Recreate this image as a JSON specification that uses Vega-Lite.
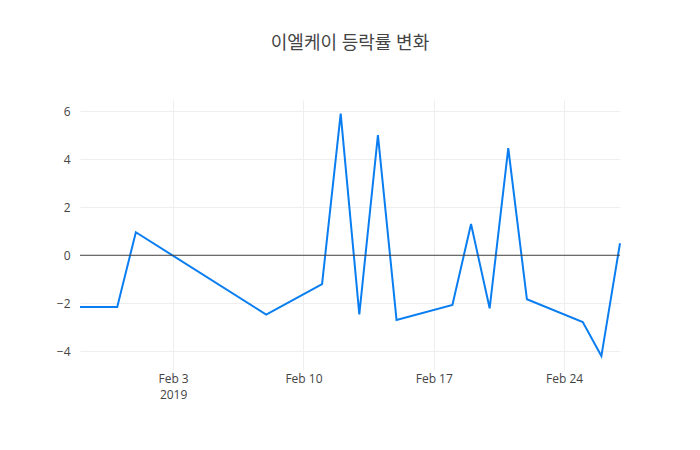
{
  "$schema": "https://vega.github.io/schema/vega-lite/v6.json",
  "description": "이엘케이 daily rate of change, Feb 2019.",
  "autosize": "none",
  "width": 540,
  "height": 270,
  "padding": {"left": 80, "right": 80, "top": 100, "bottom": 80},
  "background": "white",
  "config": {
    "font": "Open Sans, Noto Sans CJK KR",
    "view": {"stroke": null}
  },
  "title": {
    "text": "이엘케이 등락률 변화",
    "font": "Open Sans, Noto Sans CJK KR",
    "fontSize": 18,
    "fontWeight": "normal",
    "color": "#444",
    "anchor": "middle",
    "baseline": "middle",
    "offset": 38
  },
  "data": {
    "values": [
      {"date": "2019-01-29", "rate": -2.15},
      {"date": "2019-01-31", "rate": -2.15},
      {"date": "2019-02-01", "rate": 0.96},
      {"date": "2019-02-08", "rate": -2.47},
      {"date": "2019-02-11", "rate": -1.2},
      {"date": "2019-02-12", "rate": 5.9},
      {"date": "2019-02-13", "rate": -2.46},
      {"date": "2019-02-14", "rate": 5.01},
      {"date": "2019-02-15", "rate": -2.7},
      {"date": "2019-02-18", "rate": -2.07},
      {"date": "2019-02-19", "rate": 1.3},
      {"date": "2019-02-20", "rate": -2.21},
      {"date": "2019-02-21", "rate": 4.46},
      {"date": "2019-02-22", "rate": -1.83},
      {"date": "2019-02-25", "rate": -2.78},
      {"date": "2019-02-26", "rate": -4.2},
      {"date": "2019-02-27", "rate": 0.5}
    ]
  },
  "layer": [
    {
      "mark": {"type": "line", "color": "#0a7ef0", "strokeWidth": 2},
      "encoding": {
        "x": {
          "field": "date",
          "type": "temporal",
          "title": null,
          "scale": {
            "type": "utc",
            "domain": [
              {"year": 2019, "month": 1, "date": 29, "utc": true},
              {"year": 2019, "month": 2, "date": 27, "utc": true}
            ]
          },
          "axis": {
            "values": [
              {"year": 2019, "month": 2, "date": 3, "utc": true},
              {"year": 2019, "month": 2, "date": 10, "utc": true},
              {"year": 2019, "month": 2, "date": 17, "utc": true},
              {"year": 2019, "month": 2, "date": 24, "utc": true}
            ],
            "labelExpr": "utcdate(datum.value) == 3 ? ['Feb 3', '2019'] : utcFormat(datum.value, '%b %-d')",
            "labelFontSize": 12,
            "labelColor": "#444",
            "labelPadding": 3,
            "labelLineHeight": 16,
            "labelBaseline": "top",
            "ticks": false,
            "domain": false,
            "grid": true,
            "gridColor": "#eee",
            "gridWidth": 1
          }
        },
        "y": {
          "field": "rate",
          "type": "quantitative",
          "title": null,
          "scale": {"domain": [-4.78, 6.47], "nice": false, "zero": false},
          "axis": {
            "values": [-4, -2, 0, 2, 4, 6],
            "labelExpr": "replace(format(datum.value, 'd'), '-', '−')",
            "labelFontSize": 12,
            "labelColor": "#444",
            "labelPadding": 10,
            "ticks": false,
            "domain": false,
            "grid": true,
            "gridColor": "#eee",
            "gridWidth": 1
          }
        }
      }
    },
    {
      "data": {"values": [{"zero": 0}]},
      "mark": {"type": "rule", "color": "#444", "strokeWidth": 1},
      "encoding": {
        "y": {"field": "zero", "type": "quantitative"}
      }
    }
  ]
}
